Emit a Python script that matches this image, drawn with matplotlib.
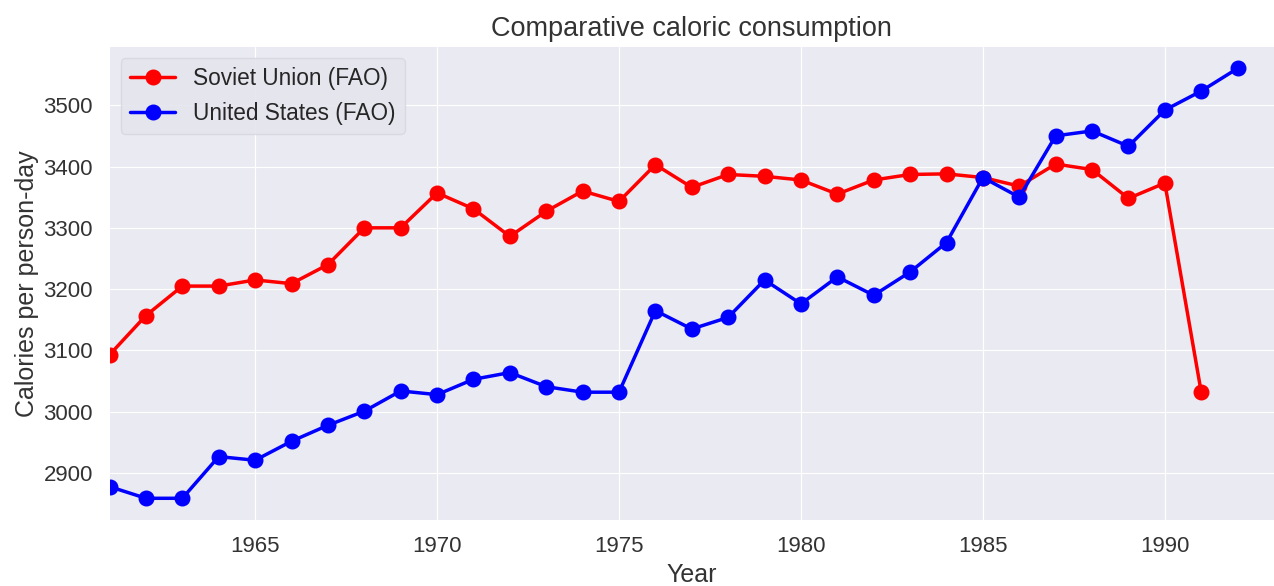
import matplotlib
matplotlib.use("Agg")
from matplotlib import pyplot as plt

plt.style.use("seaborn-v0_8-darkgrid")
plt.rcParams["font.family"] = ["Liberation Sans", "DejaVu Sans"]

years_su = list(range(1961, 1992))
soviet = [3093, 3157, 3205, 3205, 3215, 3209, 3240, 3300, 3300, 3357,
          3331, 3286, 3327, 3360, 3343, 3403, 3366, 3387, 3384, 3378,
          3355, 3378, 3387, 3388, 3382, 3368, 3404, 3395, 3348, 3373,
          3032]

years_us = list(range(1961, 1993))
usa = [2878, 2859, 2859, 2927, 2921, 2952, 2978, 3001, 3034, 3028,
       3053, 3064, 3041, 3032, 3032, 3165, 3135, 3154, 3215, 3176,
       3220, 3190, 3228, 3276, 3382, 3350, 3450, 3458, 3433, 3492,
       3523, 3560]

fig = plt.figure(figsize=(12.74, 5.86), dpi=100)
ax = fig.add_axes([0.086, 0.113, 0.914, 0.807])

ax.plot(years_su, soviet, "o-", color="red", lw=2.5, ms=10.5, label="Soviet Union (FAO)")
ax.plot(years_us, usa, "o-", color="blue", lw=2.5, ms=10.5, label="United States (FAO)")

ax.set_xlim(1961, 1993)
ax.set_title("Comparative caloric consumption", fontsize=19.5, color=".2", pad=8)
ax.set_xlabel("Year", fontsize=18, color=".2", labelpad=4)
ax.set_ylabel("Calories per person-day", fontsize=18, color=".2", labelpad=3)
ax.tick_params(labelsize=16, colors=".2", pad=12)
ax.legend(loc="upper left", fontsize=16.3, frameon=True, facecolor="#E5E5EE",
          edgecolor="#D8D8E0", framealpha=0.9)

fig.savefig("out.png", dpi=100)
